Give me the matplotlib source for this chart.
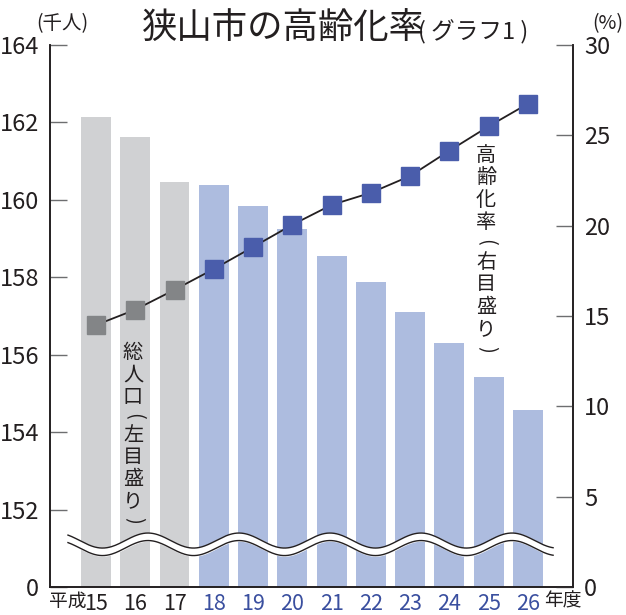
import numpy as np
import matplotlib.pyplot as plt

plt.rcParams['font.family'] = ['Liberation Sans Narrow', 'Noto Sans CJK JP', 'DejaVu Sans']

years = ['15', '16', '17', '18', '19', '20', '21', '22', '23', '24', '25', '26']
population = [162.15, 161.62, 160.45, 160.38, 159.83, 159.25, 158.55, 157.88, 157.1, 156.3, 155.42, 154.57]
aging_rate = [14.5, 15.35, 16.45, 17.6, 18.82, 20.05, 21.15, 21.82, 22.75, 24.15, 25.5, 26.75]
estimated = [True, True, True] + [False] * 9

TXT = '#231f20'
BLUE_TXT = '#3a4f9f'
bar_colors = ['#d0d1d3' if g else '#adbcdf' for g in estimated]
mark_colors = ['#838587' if g else '#4a5dab' for g in estimated]

fig = plt.figure(figsize=(6.26, 6.15), dpi=100)
W, H = 626, 615
ax = fig.add_axes([50 / W, 1 - 587 / H, 523 / W, 542 / H])
x = np.arange(len(years))

ax.bar(x, population, width=0.76, color=bar_colors, zorder=1)
ax.set_xlim(-1.171, 12.147)
ax.set_ylim(150, 164)
ax.set_yticks([150, 152, 154, 156, 158, 160, 162, 164])
ax.set_yticklabels(['0', '152', '154', '156', '158', '160', '162', '164'])

# broken-axis wave
wx = np.linspace(-0.713, 11.64, 400)
ph = np.cos(2 * np.pi * (wx - 1.324) / 2.317) * 0.194
up, lo = 151.20 + ph, 151.006 + ph
ax.fill_between(wx, lo, up, color='white', zorder=2)
ax.plot(wx, up, color=TXT, lw=1.0, zorder=3)
ax.plot(wx, lo, color=TXT, lw=1.0, zorder=3)

ax2 = ax.twinx()
ax2.set_ylim(0, 30)
ax2.set_yticks([0, 5, 10, 15, 20, 25, 30])
ax2.plot(x, aging_rate, color=TXT, lw=1.3, zorder=4)
for xi, r, c in zip(x, aging_rate, mark_colors):
    ax2.plot(xi, r, marker='s', ms=12.5, color=c, mec=c, zorder=5)

for a in (ax, ax2):
    a.spines['top'].set_visible(False)
    for s in ('left', 'right', 'bottom'):
        a.spines[s].set_color(TXT)
        a.spines[s].set_linewidth(1.2)
    a.tick_params(axis='y', direction='in', length=12, width=1.0, color='#6d6e70',
                  labelsize=17, labelcolor=TXT, pad=8)

ax.set_xticks(x)
ax.set_xticklabels(years, fontsize=15.5)
ax.tick_params(axis='x', length=0, pad=4)
for lab, g in zip(ax.get_xticklabels(), estimated):
    lab.set_color(TXT if g else BLUE_TXT)

fig.text(86 / W, 1 - 601 / H, '平成', fontsize=13.5, color=TXT, va='center', ha='right',
         family=['Noto Sans CJK JP'])
fig.text(544 / W, 1 - 601 / H, '年度', fontsize=13.5, color=TXT, va='center', ha='left',
         family=['Noto Sans CJK JP'])

fig.text(62 / W, 1 - 24 / H, '(千人)', fontsize=14, color=TXT, ha='center', va='center')
fig.text(608 / W, 1 - 24 / H, '(%)', fontsize=14, color=TXT, ha='center', va='center')

fig.text(142 / W, 1 - 29 / H, '狭山市の高齢化率', fontsize=25.5, color=TXT, ha='left', va='center',
         family=['Noto Sans CJK JP'])
fig.text(418 / W, 1 - 32 / H, '( グラフ1 )', fontsize=17, color=TXT, ha='left', va='center',
         family=['Noto Sans CJK JP'])


def vtext(cx, top, chars, step):
    y = top
    for ch in chars:
        paren = ch in '()'
        st = step * 0.75 if paren else step
        fig.text(cx / W, 1 - (y + st / 2) / H, ch, fontsize=14.5, color=TXT,
                 ha='center', va='center', rotation=-90 if paren else 0,
                 rotation_mode='anchor', family=['Noto Sans CJK JP'])
        y += st


vtext(133, 342, '総人口(左目盛り)', 22)
vtext(486, 144, '高齢化率(右目盛り)', 22.5)

fig.savefig('out.png', dpi=100)
